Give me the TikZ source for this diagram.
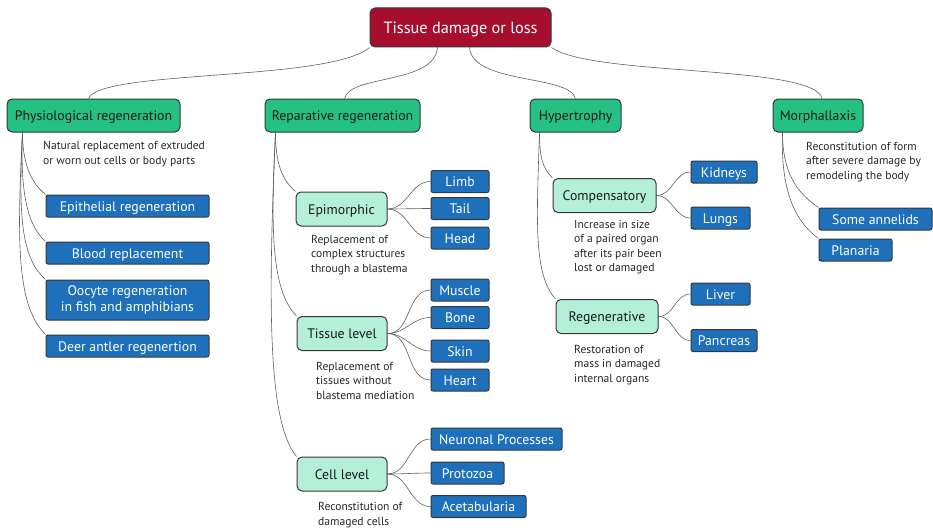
\documentclass[tikz,border=0pt]{standalone}
\usepackage{fontspec}
\setmainfont{PT Sans}
\pgfdeclarelayer{background}
\pgfsetlayers{background,main}
\definecolor{rootred}{RGB}{166,14,46}
\definecolor{groupgreen}{RGB}{37,192,132}
\definecolor{submint}{RGB}{180,239,216}
\definecolor{leafblue}{RGB}{30,112,187}
\definecolor{edgegray}{RGB}{55,55,55}
\definecolor{linkgray}{RGB}{95,95,95}
\tikzset{
    rootbox/.style={draw=edgegray, line width=1pt, fill=rootred, text=white, rounded corners=5pt, minimum height=39pt, text height=12.5pt, text depth=0pt, font=\fontsize{16.3}{19}\selectfont},
    groupbox/.style={draw=edgegray, line width=1pt, fill=groupgreen, text=black!90, rounded corners=5pt, minimum height=33pt, text height=10.5pt, text depth=0pt, font=\fontsize{13.8}{16}\selectfont},
    subbox/.style={draw=edgegray, line width=1pt, fill=submint, text=black!90, rounded corners=5pt, minimum height=34pt, text height=10pt, text depth=0pt, font=\fontsize{13.8}{16}\selectfont},
    leafbox/.style={draw=edgegray, line width=1pt, fill=leafblue, text=white, rounded corners=2pt, minimum height=22pt, inner sep=1pt, align=center, text height=10.5pt, text depth=0pt, font=\fontsize{13.8}{16}\selectfont},
    wd/.style={minimum width=#1pt},
    note/.style={anchor=base west, inner sep=0pt, align=left, text=black!85, font=\fontsize{11.6}{14.5}\selectfont},
    link/.style={draw=linkgray, line width=0.6pt},
}

\begin{document}
\begin{tikzpicture}[x=1pt, y=1pt]
    \useasboundingbox (0,0) rectangle (933,-527);

    \node[rootbox, wd=181] (root) at (460.5,-27.5) {Tissue damage or loss};

    \node[groupbox, wd=173] (phys) at (93.5,-115.5) {Physiological regeneration};
    \node[groupbox, wd=155] (rep) at (342.5,-115.5) {Reparative regeneration};
    \node[groupbox, wd=91] (hyp) at (575.5,-115.5) {Hypertrophy};
    \node[groupbox, wd=90] (morph) at (818,-115.5) {Morphallaxis};

    % physiological (notes sit on the baseline of their last line)
    \node[note] (physnote) at (43,-164) {Natural replacement of extruded\\or worn out cells or body parts};
    \node[leafbox, wd=163] (epi) at (127.5,-206) {Epithelial regeneration};
    \node[leafbox, wd=163] (blood) at (127.5,-253) {Blood replacement};
    \node[leafbox, wd=163, minimum height=40pt, text height=, text depth=] (oocyte) at (127.5,-300) {Oocyte regeneration\\in fish and amphibians};
    \node[leafbox, wd=163] (antler) at (127.5,-346) {Deer antler regenertion};

    % reparative
    \node[subbox, wd=91] (epim) at (341.5,-209) {Epimorphic};
    \node[note] (epimnote) at (311,-272) {Replacement of\\complex structures\\through a blastema};
    \node[leafbox, wd=58] (limb) at (460,-181.5) {Limb};
    \node[leafbox, wd=58] (tail) at (460,-208.5) {Tail};
    \node[leafbox, wd=58] (head) at (460,-238) {Head};

    \node[subbox, wd=90] (tissue) at (342,-333.5) {Tissue level};
    \node[note] (tissuenote) at (316,-399) {Replacement of\\tissues without\\blastema mediation};
    \node[leafbox, wd=58] (muscle) at (460,-290) {Muscle};
    \node[leafbox, wd=58] (bone) at (460,-317.5) {Bone};
    \node[leafbox, wd=58] (skin) at (460,-351) {Skin};
    \node[leafbox, wd=58] (heart) at (460,-380) {Heart};

    \node[subbox, wd=90] (cell) at (342,-474) {Cell level};
    \node[note] (cellnote) at (318,-525) {Reconstitution of\\damaged cells};
    \node[leafbox, wd=131] (neur) at (496.5,-439) {Neuronal Processes};
    \node[leafbox, wd=73] (proto) at (467.5,-473) {Protozoa};
    \node[leafbox, wd=95] (aceta) at (478.5,-506.5) {Acetabularia};

    % hypertrophy
    \node[subbox, wd=103] (comp) at (604.5,-195.5) {Compensatory};
    \node[note] (compnote) at (574,-271.5) {Increase in size\\of a paired organ\\after its pair been\\lost or damaged};
    \node[leafbox, wd=66] (kid) at (724,-172) {Kidneys};
    \node[leafbox, wd=59] (lungs) at (720.5,-218) {Lungs};

    \node[subbox, wd=102] (regen) at (607,-316.5) {Regenerative};
    \node[note] (regennote) at (574,-382) {Restoration of\\mass in damaged\\internal organs};
    \node[leafbox, wd=59] (liver) at (720.5,-294) {Liver};
    \node[leafbox, wd=66] (panc) at (724,-340.5) {Pancreas};

    % morphallaxis
    \node[note] (morphnote) at (806,-179) {Reconstitution of form\\after severe damage by\\remodeling the body};
    \node[leafbox, wd=113] (annel) at (875.5,-219) {Some annelids};
    \node[leafbox, wd=73] (plan) at (855.5,-250) {Planaria};

    \begin{pgfonlayer}{background}
      \draw[link] (root.south west) .. controls +(-40,-34) and +(12,29) .. ([xshift=-5]phys.north);
      \draw[link] ([xshift=-23]root.south) .. controls +(-3,-37) and +(5,24) .. ([xshift=2]rep.north);
      \draw[link] ([xshift=9]root.south) .. controls +(3,-37) and +(-6,24) .. (hyp.north);
      \draw[link] (root.south east) .. controls +(40,-29) and +(-7,34) .. ([xshift=4]morph.north);

      \draw[link] ([xshift=16]phys.south west) .. controls +(0,-30) and +(-15,12) .. (epi.north west);
      \draw[link] ([xshift=16]phys.south west) .. controls +(-2,-55) and +(-20,18) .. (blood.north west);
      \draw[link] ([xshift=16]phys.south west) .. controls +(-4,-80) and +(-25,22) .. (oocyte.north west);
      \draw[link] ([xshift=16]phys.south west) .. controls +(-6,-115) and +(-28,28) .. (antler.north west);

      \draw[link] ([xshift=11]rep.south west) .. controls +(0,-30) and +(-14,12) .. (epim.north west);
      \draw[link] ([xshift=11]rep.south west) .. controls +(-5,-100) and +(-25,26) .. (tissue.north west);
      \draw[link] ([xshift=11]rep.south west) .. controls +(-8,-180) and +(-28,34) .. (cell.north west);

      \draw[link] ([xshift=10]hyp.south west) .. controls +(0,-25) and +(-10,10) .. (comp.north west);
      \draw[link] ([xshift=10]hyp.south west) .. controls +(-3,-90) and +(-22,25) .. (regen.north west);

      \draw[link] ([xshift=10]morph.south west) .. controls +(0,-40) and +(-22,15) .. (annel.north west);
      \draw[link] ([xshift=10]morph.south west) .. controls +(-2,-55) and +(-25,18) .. (plan.north west);

      \foreach \x in {limb, tail, head}
        \draw[link] (epim.east) to[out=0, in=180] (\x.west);
      \foreach \x in {muscle, bone, skin, heart}
        \draw[link] (tissue.east) to[out=0, in=180] (\x.west);
      \foreach \x in {neur, proto, aceta}
        \draw[link] (cell.east) to[out=0, in=180] (\x.west);
      \foreach \x in {kid, lungs}
        \draw[link] (comp.east) to[out=0, in=180] (\x.west);
      \foreach \x in {liver, panc}
        \draw[link] (regen.east) to[out=0, in=180] (\x.west);
    \end{pgfonlayer}
\end{tikzpicture}
\end{document}
